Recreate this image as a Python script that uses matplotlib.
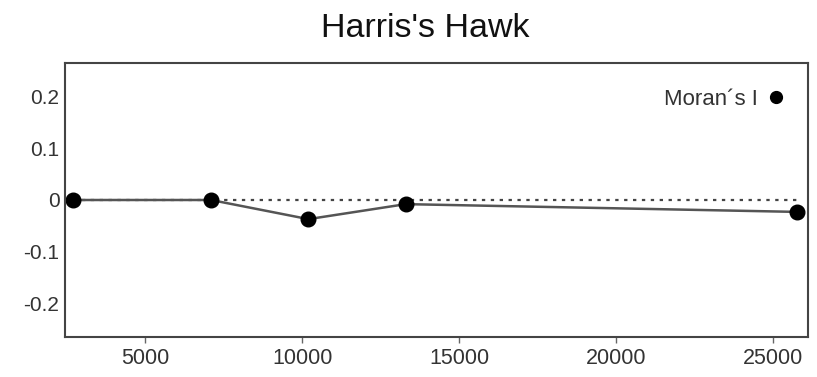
import matplotlib
matplotlib.use("Agg")
from matplotlib import pyplot as plt

# Moran's I correlogram values by distance class
distances = [2700, 7100, 10200, 13300, 25750]
morans_i = [0.0, 0.0, -0.037, -0.008, -0.023]
x_ticks = [5000, 10000, 15000, 20000, 25000]
y_ticks = [-0.2, -0.1, 0, 0.1, 0.2]
y_tick_labels = ["-0.2", "-0.1", "0", "0.1", "0.2"]

plt.rcParams['font.family'] = ['Liberation Sans', 'DejaVu Sans']

fig = plt.figure(figsize=(8.17, 3.77), dpi=100)
ax = fig.add_axes([0.0796, 0.106, 0.909, 0.727])

# expected value reference line
ax.hlines(0, distances[0], distances[-1], colors='#444444', linestyles=(0, (1.5, 2.5)),
          linewidth=1.6, zorder=1)
ax.plot(distances, morans_i, color='#555555', linewidth=1.8, marker='o',
        markersize=10.5, markerfacecolor='black', markeredgecolor='black',
        label="Moran´s I", zorder=2)

ax.set_xlim(2450, 26100)
ax.set_ylim(-0.265, 0.265)
ax.set_xticks(x_ticks)
ax.set_yticks(y_ticks)
ax.set_yticklabels(y_tick_labels)

ax.tick_params(axis='x', length=4, width=1, color='#666666', labelsize=15.5,
               labelcolor='#333333', pad=4)
ax.tick_params(axis='y', length=0, labelsize=15, labelcolor='#333333', pad=4)
for s in ax.spines.values():
    s.set_color('#444444')
    s.set_linewidth(1.5)

ax.legend(loc='upper right', frameon=False, markerfirst=False, fontsize=16,
          handlelength=0.6, handletextpad=0.5, borderaxespad=0.4,
          bbox_to_anchor=(0.99, 0.97), labelcolor='#333333')
leg = ax.get_legend()
for h in leg.legend_handles:
    h.set_linestyle('None')
    h.set_markersize(8.5)

fig.suptitle("Harris's Hawk", fontsize=24.5, color='#111111', x=0.521, y=0.965)

fig.savefig("out.png", dpi=100, facecolor='white')
